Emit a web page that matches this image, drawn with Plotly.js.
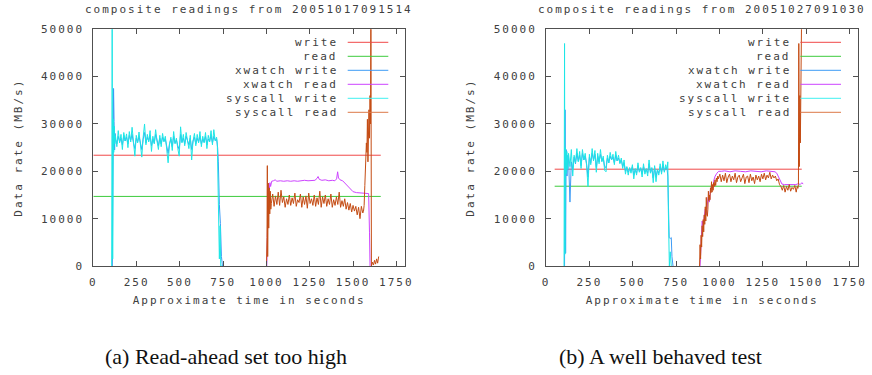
<!DOCTYPE html>
<html>
<head>
<meta charset="utf-8">
<script src="https://cdn.plot.ly/plotly-3.0.1.min.js"></script>
<style>
body { margin: 0; background: #fff; }
text[style*="Mono"] { letter-spacing: 2px; }
</style>
</head>
<body>
<div id="chart" style="width:872px;height:375px;"></div>
<script>
// ---------- labels ----------
const seriesNames = ["write", "read", "xwatch write", "xwatch read", "syscall write", "syscall read"];
const titleA = "composite readings from 20051017091514";
const titleB = "composite readings from 20051027091030";
const captionA = "(a) Read-ahead set too high";
const captionB = "(b) A well behaved test";
const xTitle = "Approximate time in seconds";
const yTitle = "Data rate (MB/s)";
const xTickVals = [0, 250, 500, 750, 1000, 1250, 1500, 1750];
const xTickText = ["0", "250", "500", "750", "1000", "1250", "1500", "1750"];
const yTickVals = [0, 10000, 20000, 30000, 40000, 50000];
const yTickText = ["0", "10000", "20000", "30000", "40000", "50000"];

// ---------- (a) averages ----------
const avgSpanA = [0, 1660];
const writeAvgA = [23400, 23400];
const readAvgA = [14700, 14700];

// ---------- (a) write phase ----------
const tBandWriteA = [128,136,144,152,160,168,176,184,192,200,208,216,224,232,240,248,256,264,272,280,288,296,304,312,320,328,336,344,352,360,368,376,384,392,400,408,416,424,432,440,448,456,464,472,480,488,496,504,512,520,528,536,544,552,560,568,576,584,592,600,608,616,624,632,640,648,656,664,672,680,688,696,704,712];
const sysWriteHeadTA = [106,109,112,115,118,121,124];
const sysWriteHeadA = [0,52000,1500,31000,24000,29500,25800];
const sysWriteBandA = [27500,25200,28600,26000,27800,24600,28200,26400,27900,25000,
  28400,26200,29300,25400,23200,27600,26000,28300,24800,23000,
  27200,30000,25600,27800,26200,28600,24200,27400,25800,28800,
  26400,24600,27600,25200,28000,26200,27400,24000,21800,25600,
  27200,24400,28400,25800,27000,24800,23200,29400,26000,27800,
  25400,28200,26600,24800,27600,22400,26400,28000,25400,27800,
  26000,28400,25200,27400,26000,28200,24800,27600,26200,28600,
  25600,28800,26400,27200];
const sysWriteTailTA = [716,720,724,728,732,736,742];
const sysWriteTailA = [26000,20000,8000,1500,8500,0,0];

const xwWriteHeadTA = [110,114,117,120,123,126];
const xwWriteHeadA = [0,20000,37500,30500,24500,28000];
const xwWriteBandA = [26800,25800,27400,26200,27000,25600,27600,26400,27200,25800,
  27600,26600,27800,26000,24800,27000,26200,27400,25600,24600,
  26800,28200,26000,27200,26400,27600,25400,26800,26000,27800,
  26600,25400,27000,25800,27200,26400,26800,25200,23800,25800,
  26800,25200,27400,26000,26600,25400,24600,27800,26200,27000,
  25800,27400,26600,25600,27000,24600,26400,27200,25800,27000,
  26200,27400,25800,26800,26200,27400,25600,26800,26400,27600,
  26000,27400,26600,26800];
const xwWriteTailTA = [718,722,728,734,740,746];
const xwWriteTailA = [25000,22000,13000,9000,2000,0];

// ---------- (a) read phase ----------
const xwReadTA = [1002,1006,1010,1016,1020,1024,1030,1040,1050,1060,1080,1100,1120,1140,1160,1180,1200,1220,1240,1260,1280,1292,1298,1305,1320,1340,1360,1380,1395,1405,1411,1416,1425,1440,1455,1465,1480,1500,1520,1540,1560,1580,1590,1595,1598];
const xwReadA = [0,9000,17500,16000,17600,16800,17900,18000,18200,17900,18000,17900,18000,17900,18000,17900,18000,18100,18000,18000,18100,18500,18900,18300,18100,18200,18000,18100,18000,18400,19900,18600,18200,18000,17400,16900,16400,15700,15500,15400,15300,15200,15300,7000,0];

const sysReadHeadTA = [1000,1003,1005,1007,1010,1013,1016,1019,1022,1025];
const sysReadHeadA = [0,6000,21200,2000,17500,8000,16500,11000,15800,12000];
const tBandReadA = [1028,1036,1044,1052,1060,1068,1076,1084,1092,1100,1108,1116,1124,1132,1140,1148,1156,1164,1172,1180,1188,1196,1204,1212,1220,1228,1236,1244,1252,1260,1268,1276,1284,1292,1300,1308,1316,1324,1332,1340,1348,1356,1364,1372,1380,1388,1396,1404,1412,1420,1428,1436,1444,1452,1460,1468,1476,1484,1492,1500,1508,1516,1524,1532,1540,1548,1556];
const sysReadBandA = [13200,15200,12600,14800,13000,15600,12800,16000,13400,14600,
  12400,14200,13000,15000,12800,14400,13200,15400,12600,14000,
  13400,15200,12400,14600,13000,14800,12200,15400,13200,14200,
  12800,15000,12600,14400,13000,15800,12400,14600,13200,15000,
  12600,14200,13000,15200,12400,14000,12800,14600,13000,15600,
  12400,13800,12600,14200,12000,13400,11800,13200,11400,12800,
  11600,12600,10800,12400,10000,12600,11200];
const sysReadTailTA = [1560,1564,1568,1571,1574,1577,1580,1583,1586,1589,1592,1595,1598,1601,1603,1606,1612,1618,1624,1630,1636,1642,1648];
const sysReadTailA = [11500,12800,17000,22000,20000,26000,24000,31000,22000,29000,33000,27000,36000,30000,56000,0,800,200,1200,400,1500,600,2000];

// ---------- (b) averages ----------
const avgSpanB = [50, 1474];
const writeAvgB = [20450, 20450];
const readAvgB = [16850, 16850];

// ---------- (b) write phase ----------
const tBandWriteB = [130,138,146,154,162,170,178,186,194,202,210,218,226,234,242,250,258,266,274,282,290,298,306,314,322,330,338,346,354,362,370,378,386,394,402,410,418,426,434,442,450,458,466,474,482,490,498,506,514,522,530,538,546,554,562,570,578,586,594,602,610,618,626,634,642,650,658,666,674,682,690,698];
const sysWriteHeadTB = [104,107,109,112,116,120,125];
const sysWriteHeadB = [0,47000,2500,25000,19500,24200,20400];
const sysWriteBandB = [23800,21000,24600,19000,23400,21800,24800,22000,24200,20600,
  24600,22400,23800,21200,16800,23600,21400,24800,22200,24400,
  19800,23800,21600,24600,22000,23200,20200,19900,23400,21800,
  24000,22400,23600,21400,24200,22200,23400,21600,22800,20600,
  22400,19400,21000,19200,20800,19600,21400,18400,20600,19200,
  21800,19800,20800,18800,21600,19400,20600,19000,22400,19600,
  20800,17600,21200,17800,20400,19200,21600,19400,22200,19800,
  21400,20400];
const sysWriteTailTB = [702,705,708,711,716,722];
const sysWriteTailB = [22000,12000,1500,0,3000,0];

const xwWriteHeadTB = [107,110,113,116,121,126];
const xwWriteHeadB = [0,33000,2700,24600,19000,23400];
const xwWriteBandB = [22800,13500,22000,20400,23000,21600,23800,22200,23400,21200,
  23800,22400,23200,21600,18800,23000,21800,23800,22400,23600,
  20800,23200,22000,23600,22200,22800,21000,20800,22800,21800,
  23200,22400,23000,21800,23400,22200,22800,21800,22400,21000,
  21800,20000,20800,19800,20600,20000,21000,19200,20400,19600,
  21200,20000,20600,19400,21000,19800,20400,19600,21600,19800,
  20600,18600,20800,18800,20200,19600,21000,19800,21400,20000,
  20800,20400];
const xwWriteTailTB = [702,706,710,716,722,726,732];
const xwWriteTailB = [19000,8000,6000,5800,6000,2000,0];

// ---------- (b) read phase ----------
const xwReadTB = [888,892,896,900,905,910,918,922,928,935,942,948,955,962,968,975,985,995,1010,1030,1060,1090,1120,1150,1180,1210,1240,1270,1300,1320,1330,1340,1350,1360,1375,1400,1420,1440,1455,1465,1475,1482];
const xwReadB = [0,4000,7500,9500,8500,10500,12000,10800,13000,14500,13500,16000,17000,16400,18200,19000,19600,20000,20000,20100,19900,20100,20000,19900,20100,20000,19900,20100,20000,19900,19600,18800,17900,17300,17200,17200,17100,17200,17400,17200,17600,17300];

const sysReadHeadTB = [885,888,891,894,897,900,903,906,909,912,915,918,921,924,927,930,933,936,939,942,945,948,951,954,957,960,963,966,970,974,978,982,986,990];
const sysReadHeadB = [0,4500,1500,6500,4000,8500,6200,9800,7200,10800,8800,12500,9500,14500,11000,10500,12000,15800,13800,15000,14000,16500,15500,17800,15600,17200,16000,17600,16800,18200,17000,18600,17800,19000];
const tBandReadB = [994,1002,1010,1018,1026,1034,1042,1050,1058,1066,1074,1082,1090,1098,1106,1114,1122,1130,1138,1146,1154,1162,1170,1178,1186,1194,1202,1210,1218,1226,1234,1242,1250,1258,1266,1274,1282,1290,1298,1306,1314,1322,1330,1338,1346,1354,1362,1370,1378,1386,1394,1402,1410,1418,1426,1434,1442];
const sysReadBandB = [18400,19400,17800,19200,18000,19600,17600,18800,19400,17800,
  19000,18200,19600,17600,18800,19200,17800,18600,19400,17400,
  18800,19000,17600,19400,18000,18800,17400,19200,18200,19000,
  17800,19400,18400,19600,18200,19200,18600,19800,18400,19200,
  18600,19000,18000,18400,17200,16800,16000,17000,15600,16800,
  16000,17200,15800,16600,16200,17000,15600];
const sysReadTailTB = [1448,1452,1455,1457,1460,1463,1466,1469,1471,1474];
const sysReadTailB = [16800,16400,17200,47000,21000,36000,26000,46000,31000,56000];

// ---------- styling ----------
const dataColors = ["#F04848", "#3CCB3C", "#3D9BF5", "#CC44FF", "#1EE6E6", "#C44C14"];
const keyColors  = ["#F04848", "#3CCB3C", "#3D9BF5", "#CC44FF", "#40F0F0", "#DC7848"];
const monoFont = "DejaVu Sans Mono";
const textColor = "#404040";
const W = 872, H = 375;
const plotA = {l: 93.3, r: 405, t: 29.3, b: 266};
const plotB = {l: 546, r: 858.3, t: 29.3, b: 266};

function cat(...arrs) { return [].concat(...arrs); }
function tr(x, y, ci, ax) {
  return {x: x, y: y, type: "scatter", mode: "lines", xaxis: ax[0], yaxis: ax[1],
    line: {color: dataColors[ci], width: 1}, hoverinfo: "skip", showlegend: false, name: seriesNames[ci]};
}
const A = ["x", "y"], B = ["x2", "y2"];
const traces = [
  tr(avgSpanA, writeAvgA, 0, A),
  tr(avgSpanA, readAvgA, 1, A),
  tr(cat(xwWriteHeadTA, tBandWriteA, xwWriteTailTA), cat(xwWriteHeadA, xwWriteBandA, xwWriteTailA), 2, A),
  tr(xwReadTA, xwReadA, 3, A),
  tr(cat(sysWriteHeadTA, tBandWriteA, sysWriteTailTA), cat(sysWriteHeadA, sysWriteBandA, sysWriteTailA), 4, A),
  tr(cat(sysReadHeadTA, tBandReadA, sysReadTailTA), cat(sysReadHeadA, sysReadBandA, sysReadTailA), 5, A),
  tr(avgSpanB, writeAvgB, 0, B),
  tr(avgSpanB, readAvgB, 1, B),
  tr(cat(xwWriteHeadTB, tBandWriteB, xwWriteTailTB), cat(xwWriteHeadB, xwWriteBandB, xwWriteTailB), 2, B),
  tr(xwReadTB, xwReadB, 3, B),
  tr(cat(sysWriteHeadTB, tBandWriteB, sysWriteTailTB), cat(sysWriteHeadB, sysWriteBandB, sysWriteTailB), 4, B),
  tr(cat(sysReadHeadTB, tBandReadB, sysReadTailTB), cat(sysReadHeadB, sysReadBandB, sysReadTailB), 5, B)
];

function xAxis(p, anchor) {
  return {domain: [p.l / W, p.r / W], anchor: anchor, range: [0, 1800], tickmode: "array",
    tickvals: xTickVals, ticktext: xTickText, showgrid: false, zeroline: false,
    showline: true, linecolor: "#505050", linewidth: 1, mirror: "ticks", ticks: "inside",
    ticklen: 5, tickwidth: 1, tickcolor: "#505050", ticklabelstandoff: 6,
    tickfont: {family: monoFont, size: 11, color: textColor},
    title: {text: xTitle, font: {family: monoFont, size: 11, color: textColor}, standoff: 8},
    fixedrange: true, automargin: false};
}
function yAxis(p, anchor) {
  return {domain: [1 - p.b / H, 1 - p.t / H], anchor: anchor, range: [0, 50000], tickmode: "array",
    tickvals: yTickVals, ticktext: yTickText, showgrid: false, zeroline: false,
    showline: true, linecolor: "#505050", linewidth: 1, mirror: "ticks", ticks: "inside",
    ticklen: 5, tickwidth: 1, tickcolor: "#505050", ticklabelstandoff: 6,
    tickfont: {family: monoFont, size: 11, color: textColor},
    title: {text: yTitle, font: {family: monoFont, size: 11, color: textColor}, standoff: 16},
    fixedrange: true, automargin: false};
}

const annotations = [];
const shapes = [];
[[plotA, titleA, captionA, 226], [plotB, titleB, captionB, 660]].forEach(([p, t, c, cx]) => {
  annotations.push({xref: "paper", yref: "paper", x: (p.l + p.r) / 2 / W, y: 1 - 9 / H,
    xanchor: "center", yanchor: "middle", showarrow: false, text: t,
    font: {family: monoFont, size: 11, color: textColor}});
  annotations.push({xref: "paper", yref: "paper", x: cx / W, y: 1 - 356 / H,
    xanchor: "center", yanchor: "middle", showarrow: false, text: c,
    font: {family: "Liberation Serif", size: 22, color: "#111"}});
  seriesNames.forEach((n, i) => {
    const yy = 1 - (42.3 + 14 * i) / H;
    annotations.push({xref: "paper", yref: "paper", x: (p.l + 246.5) / W, y: yy,
      xanchor: "right", yanchor: "middle", showarrow: false, text: n,
      font: {family: monoFont, size: 11, color: textColor}});
    shapes.push({type: "line", xref: "paper", yref: "paper",
      x0: (p.l + 254.4) / W, x1: (p.l + 295) / W, y0: yy, y1: yy,
      line: {color: keyColors[i], width: 1}});
  });
});

const layout = {
  width: W, height: H, margin: {l: 0, r: 0, t: 0, b: 0},
  paper_bgcolor: "#fff", plot_bgcolor: "#fff", showlegend: false,
  xaxis: xAxis(plotA, "y"), yaxis: yAxis(plotA, "x"),
  xaxis2: xAxis(plotB, "y2"), yaxis2: yAxis(plotB, "x2"),
  annotations: annotations, shapes: shapes
};
Plotly.newPlot("chart", traces, layout, {staticPlot: true, displayModeBar: false});
</script>
</body>
</html>
